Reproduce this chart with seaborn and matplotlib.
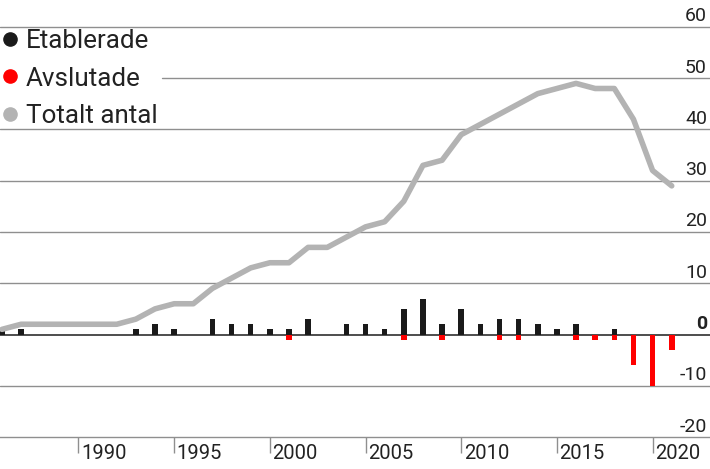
import matplotlib
matplotlib.use("Agg")
import matplotlib.pyplot as plt
import matplotlib.transforms as mtransforms
from matplotlib import font_manager
from matplotlib.lines import Line2D
import seaborn as sns
import pandas as pd

# ---- data ----
years = list(range(1986, 2022))
etablerade = [1, 1, 0, 0, 0, 0, 0, 1, 2, 1, 0, 3, 2, 2, 1, 1, 3, 0, 2, 2,
              1, 5, 7, 2, 5, 2, 3, 3, 2, 1, 2, 0, 1, 0, 0, 0]
avslutade = [0, 0, 0, 0, 0, 0, 0, 0, 0, 0, 0, 0, 0, 0, 0, -1, 0, 0, 0, 0,
             0, -1, 0, -1, 0, 0, -1, -1, 0, 0, -1, -1, -1, -6, -10, -3]
totalt = [1, 2, 2, 2, 2, 2, 2, 3, 5, 6, 6, 9, 11, 13, 14, 14, 17, 17, 19, 21,
          22, 26, 33, 34, 39, 41, 43, 45, 47, 48, 49, 48, 48, 42, 32, 29]
xtick_years = [1990, 1995, 2000, 2005, 2010, 2015, 2020]
ytick_vals = [-20, -10, 0, 10, 20, 30, 40, 50, 60]
ytick_labels = ["-20", "-10", "0", "10", "20", "30", "40", "50", "60"]
legend_labels = ["Etablerade", "Avslutade", "Totalt antal"]

df = pd.DataFrame({"year": years, "est": etablerade, "end": avslutade, "tot": totalt})

sns.set_theme(style="white")

def pick(fams):
    for f in fams:
        try:
            font_manager.findfont(f, fallback_to_default=False)
            return f
        except Exception:
            pass
    return "DejaVu Sans"

fam = pick(["Roboto", "Noto Sans", "DejaVu Sans"])
plt.rcParams["font.family"] = [fam, "DejaVu Sans"]

BLACK = "#1a1a1a"
RED = "#ff0000"
GREY = "#b3b3b3"
GRID = "#8f8f8f"
TXT = "#222222"

fig = plt.figure(figsize=(7.1, 4.69), dpi=100)
ax = fig.add_axes([0, 32 / 469, 1, 437 / 469])

# gridlines
for v in ytick_vals[1:]:
    if v == 0:
        continue
    xmin = 162 / 710 if v == 50 else 0
    ax.axhline(v, xmin=xmin, xmax=1, color=GRID, lw=1.0, zorder=0)
ax.axhline(0, color="#4d4d4d", lw=1.4, zorder=1)

sns.barplot(data=df, x="year", y="est", native_scale=True, color=BLACK,
            saturation=1, width=0.29, errorbar=None, ax=ax, zorder=2,
            linewidth=0, edgecolor="none")
sns.barplot(data=df, x="year", y="end", native_scale=True, color=RED,
            saturation=1, width=0.29, errorbar=None, ax=ax, zorder=2,
            linewidth=0, edgecolor="none")
sns.lineplot(data=df, x="year", y="tot", color=GREY, lw=4.0, ax=ax, zorder=3)

ax.set_xlim(1985.9, 2023.0)
ax.set_ylim(-20, 60 + 27 / 5.125)
ax.set_xlabel("")
ax.set_ylabel("")

for s in ["top", "left", "right"]:
    ax.spines[s].set_visible(False)
ax.spines["bottom"].set_color(GRID)
ax.spines["bottom"].set_linewidth(1.0)

# x ticks
ax.set_xticks(xtick_years)
ax.set_xticklabels([str(y) for y in xtick_years])
ax.tick_params(axis="x", direction="out", length=11.5, width=1.0, color=GRID,
               pad=-6.3, labelsize=14.5, labelcolor=TXT, bottom=True)
offx = mtransforms.ScaledTranslation(0.025, 0, fig.dpi_scale_trans)
for lab in ax.get_xticklabels():
    lab.set_horizontalalignment("left")
    lab.set_transform(lab.get_transform() + offx)

# y ticks on right, above gridlines
ax.set_yticks(ytick_vals)
ax.set_yticklabels(ytick_labels)
ax.tick_params(axis="y", left=False, right=False, labelleft=False, labelright=True,
               length=0, pad=-2.2, labelsize=14, labelcolor=TXT)
offy = mtransforms.ScaledTranslation(0, 0.055, fig.dpi_scale_trans)
for lab in ax.get_yticklabels():
    lab.set_horizontalalignment("right")
    lab.set_verticalalignment("baseline")
    lab.set_transform(lab.get_transform() + offy)
    if lab.get_text() == "0":
        lab.set_fontweight("bold")

# legend
handles = [Line2D([], [], ls="none", marker="o", ms=9.5, color=c, mec=c)
           for c in [BLACK, RED, GREY]]
leg = ax.legend(handles, legend_labels, loc="upper left",
                bbox_to_anchor=(0.0, 1 - 29 / 437), borderaxespad=0, borderpad=0,
                frameon=False, handlelength=0.75, handletextpad=0.25,
                labelspacing=0.52, fontsize=18.7)
for t in leg.get_texts():
    t.set_color(TXT)

fig.savefig("out.png", dpi=100)
